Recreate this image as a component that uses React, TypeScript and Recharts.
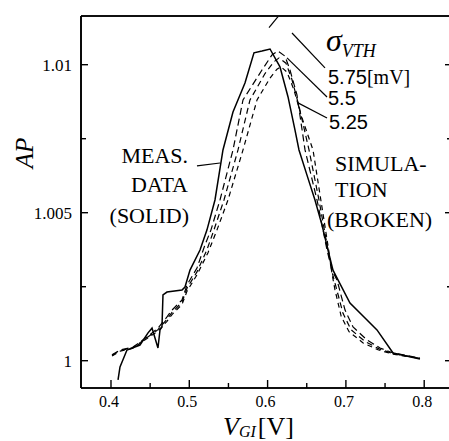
import React from 'react';
import { LineChart, Line, XAxis, YAxis, ReferenceLine, Customized } from 'recharts';

// measured data (solid)
const measX = [0.409, 0.4115, 0.4204, 0.437, 0.4473, 0.4524, 0.46, 0.4626, 0.4651, 0.4664, 0.4715, 0.4907, 0.4945, 0.5009, 0.5137, 0.5226, 0.5328, 0.543, 0.5558, 0.5711, 0.5826, 0.5928, 0.6031, 0.6158, 0.6261, 0.635, 0.6401, 0.6503, 0.6605, 0.6695, 0.6771, 0.6835, 0.6899, 0.7052, 0.7244, 0.7397, 0.7602, 0.7946];
const measY = [0.99935, 0.99979, 1.00036, 1.00053, 1.00094, 1.0011, 1.00043, 1.00104, 1.00114, 1.00222, 1.00232, 1.00239, 1.00249, 1.00306, 1.00374, 1.00442, 1.00543, 1.00712, 1.0084, 1.00938, 1.0104, 1.01046, 1.01053, 1.00993, 1.00891, 1.00779, 1.00712, 1.00627, 1.00543, 1.00458, 1.00374, 1.00306, 1.00273, 1.00195, 1.00144, 1.00104, 1.00026, 1.00006];

// simulations (broken), sigma_VTH = 5.75, 5.5, 5.25 mV
const sim575X = [0.4013, 0.4115, 0.4281, 0.446, 0.46, 0.4715, 0.4779, 0.4907, 0.4971, 0.5098, 0.52, 0.5277, 0.5392, 0.5558, 0.5686, 0.5928, 0.6056, 0.6133, 0.6222, 0.6286, 0.6375, 0.6478, 0.6631, 0.6759, 0.6822, 0.6886, 0.6989, 0.7091, 0.7269, 0.7436, 0.7602, 0.7946];
const sim575Y = [1.0002, 1.00036, 1.00046, 1.0008, 1.0011, 1.00148, 1.00171, 1.00205, 1.00256, 1.00313, 1.00391, 1.00442, 1.00543, 1.00712, 1.00881, 1.00982, 1.01033, 1.01046, 1.01029, 1.00982, 1.00898, 1.00712, 1.00543, 1.00374, 1.00306, 1.00273, 1.00171, 1.00114, 1.0007, 1.00043, 1.00026, 1.00009];

const sim55X = [0.4013, 0.4115, 0.4281, 0.446, 0.46, 0.4715, 0.4779, 0.4907, 0.4971, 0.5098, 0.5226, 0.5315, 0.5443, 0.5622, 0.5775, 0.5967, 0.6082, 0.6146, 0.6235, 0.6311, 0.6401, 0.6529, 0.6656, 0.6771, 0.6822, 0.6873, 0.6963, 0.7065, 0.7244, 0.7423, 0.7602, 0.7946];
const sim55Y = [1.00018, 1.00034, 1.00044, 1.00078, 1.00105, 1.0014, 1.00163, 1.00198, 1.00245, 1.003, 1.00375, 1.00442, 1.00543, 1.00712, 1.00881, 1.0097, 1.0101, 1.01023, 1.01005, 1.0095, 1.0086, 1.00712, 1.00543, 1.00374, 1.003, 1.0025, 1.0016, 1.00105, 1.00065, 1.0004, 1.00024, 1.00008];

const sim525X = [0.4013, 0.4115, 0.4281, 0.446, 0.46, 0.4715, 0.4779, 0.4907, 0.4971, 0.5098, 0.5239, 0.5354, 0.5494, 0.5686, 0.5865, 0.6031, 0.612, 0.6171, 0.6248, 0.6337, 0.6427, 0.658, 0.668, 0.678, 0.6822, 0.686, 0.694, 0.704, 0.722, 0.741, 0.76, 0.7946];
const sim525Y = [1.00016, 1.00032, 1.00042, 1.00075, 1.001, 1.00133, 1.00156, 1.0019, 1.00235, 1.0029, 1.00365, 1.00442, 1.00543, 1.00712, 1.00881, 1.00955, 1.00985, 1.00993, 1.00975, 1.00915, 1.0083, 1.00712, 1.00543, 1.00374, 1.00295, 1.0024, 1.0015, 1.00098, 1.0006, 1.00037, 1.00022, 1.00008];

const xTicks = [0.4, 0.45, 0.5, 0.55, 0.6, 0.65, 0.7, 0.75, 0.8];
const xLabels = ['0.4', '0.5', '0.6', '0.7', '0.8'];
const yTicks = [1, 1.0025, 1.005, 1.0075, 1.01];
const yLabels = ['1', '1.005', '1.01'];

const toPoints = (xs: number[], ys: number[]) => xs.map((x, i) => ({ x, y: ys[i] }));
const meas = toPoints(measX, measY);
const sim575 = toPoints(sim575X, sim575Y);
const sim55 = toPoints(sim55X, sim55Y);
const sim525 = toPoints(sim525X, sim525Y);

const xDomain = [0.3617, 0.8355];
const yDomain = [0.999078, 1.011645];
const serif = "'Liberation Serif', 'Times New Roman', serif";
const sans = "'Liberation Sans', Arial, sans-serif";
const TM = 9;

const labelFor = (v: number, labels: string[]) =>
  labels.find((l) => Math.abs(Number(l) - v) < 1e-7);

const BottomTick = (props: any) => {
  const { x, y, payload } = props;
  const lab = labelFor(payload.value, xLabels);
  const ay = y - TM;
  return (
    <g>
      <line x1={x} x2={x} y1={ay} y2={ay - (lab ? 8 : 5)} stroke="#000" strokeWidth={1.4} />
      {lab && (
        <text x={x - 2} y={ay + 19} textAnchor="middle" style={{ fontFamily: serif, fontSize: 16 }} fill="#000">
          {lab}
        </text>
      )}
    </g>
  );
};

const TopTick = (props: any) => {
  const { x, y, payload } = props;
  const lab = labelFor(payload.value, xLabels);
  return <line x1={x} x2={x} y1={y} y2={y + (lab ? 7 : 5)} stroke="#000" strokeWidth={1.4} />;
};

const LeftTick = (props: any) => {
  const { x, y, payload } = props;
  const lab = labelFor(payload.value, yLabels);
  const ax = x + TM;
  return (
    <g>
      <line x1={ax} x2={ax + (lab ? 7 : 5)} y1={y} y2={y} stroke="#000" strokeWidth={1.4} />
      {lab && (
        <text x={ax - 9} y={y + 6} textAnchor="end" style={{ fontFamily: serif, fontSize: 17 }} fill="#000">
          {lab}
        </text>
      )}
    </g>
  );
};

const RightTick = (props: any) => {
  const { x, y, payload } = props;
  const lab = labelFor(payload.value, yLabels);
  return <line x1={x} x2={x - (lab ? 7 : 5)} y1={y} y2={y} stroke="#000" strokeWidth={1.4} />;
};

const Annotations = () => (
  <g fill="#000">
    <text transform="translate(33,153) rotate(-90)" textAnchor="middle" style={{ fontFamily: serif, fontStyle: 'italic', fontSize: 25 }}>
      AP
    </text>
    <text x={223} y={435} style={{ fontFamily: serif, fontSize: 26 }}>
      <tspan style={{ fontStyle: 'italic' }}>V</tspan>
      <tspan style={{ fontStyle: 'italic', fontSize: 16 }} dy={2}>GI</tspan>
      <tspan dy={-2} dx={2}>[V]</tspan>
    </text>
    <text x={326} y={51} style={{ fontFamily: serif, fontSize: 32 }}>
      <tspan style={{ fontStyle: 'italic' }}>σ</tspan>
      <tspan style={{ fontStyle: 'italic', fontSize: 18 }} dy={6}>VTH</tspan>
    </text>
    <text x={328} y={84} style={{ fontFamily: sans, fontSize: 20 }}>
      5.75<tspan style={{ fontFamily: serif }}>[mV]</tspan>
    </text>
    <text x={328} y={105} style={{ fontFamily: sans, fontSize: 20 }}>5.5</text>
    <text x={329} y={129} style={{ fontFamily: sans, fontSize: 20 }}>5.25</text>
    <g style={{ fontFamily: serif, fontSize: 22 }} textAnchor="end">
      <text x={188} y={163}>MEAS.</text>
      <text x={188} y={192}>DATA</text>
      <text x={189} y={223}>(SOLID)</text>
    </g>
    <g style={{ fontFamily: serif, fontSize: 22 }}>
      <text x={335} y={171}>SIMULA-</text>
      <text x={335} y={197}>TION</text>
      <text x={327} y={227}>(BROKEN)</text>
    </g>
  </g>
);

const leader = { stroke: '#000', strokeWidth: 1.2 };
const frame = { stroke: '#000', strokeWidth: 1.6 };

export default function App() {
  return (
    <div style={{ position: 'absolute', left: 0, top: 0, width: 449, height: 441, overflow: 'hidden', background: '#fff' }}>
      <LineChart width={460} height={441} margin={{ top: 15, right: 7, left: 0, bottom: 23 }}>
        <XAxis
          dataKey="x"
          type="number"
          domain={xDomain}
          ticks={xTicks}
          interval={0}
          allowDataOverflow
          height={30}
          tickSize={0}
          tickMargin={TM}
          tick={<BottomTick />}
          stroke="#000"
          axisLine={{ stroke: '#000', strokeWidth: 1.6 }}
        />
        <XAxis
          xAxisId="top"
          orientation="top"
          type="number"
          domain={xDomain}
          ticks={xTicks}
          interval={0}
          allowDataOverflow
          height={1}
          tickSize={0}
          tickMargin={0}
          tick={<TopTick />}
          stroke="#000"
          axisLine={{ stroke: '#000', strokeWidth: 1.6 }}
        />
        <YAxis
          type="number"
          domain={yDomain}
          ticks={yTicks}
          interval={0}
          allowDataOverflow
          width={81}
          tickSize={0}
          tickMargin={TM}
          tick={<LeftTick />}
          stroke="#000"
          axisLine={{ stroke: '#000', strokeWidth: 1.6 }}
        />
        <YAxis
          yAxisId="right"
          orientation="right"
          type="number"
          domain={yDomain}
          ticks={yTicks}
          interval={0}
          allowDataOverflow
          width={1}
          tickSize={0}
          tickMargin={0}
          tick={<RightTick />}
          stroke="#000"
          axisLine={{ stroke: '#000', strokeWidth: 1.6 }}
        />
        <ReferenceLine x={xDomain[0]} {...frame} />
        <ReferenceLine x={xDomain[1]} {...frame} />
        <ReferenceLine y={yDomain[0]} {...frame} />
        <ReferenceLine y={yDomain[1]} {...frame} />
        <Line data={sim525} dataKey="y" type="linear" dot={false} stroke="#000" strokeWidth={1.2} strokeDasharray="5 4" isAnimationActive={false} />
        <Line data={sim55} dataKey="y" type="linear" dot={false} stroke="#000" strokeWidth={1.2} strokeDasharray="6 4" isAnimationActive={false} />
        <Line data={sim575} dataKey="y" type="linear" dot={false} stroke="#000" strokeWidth={1.2} strokeDasharray="7 4" isAnimationActive={false} />
        <Line data={meas} dataKey="y" type="linear" dot={false} stroke="#000" strokeWidth={1.5} isAnimationActive={false} />
        <ReferenceLine segment={[{ x: 0.6312, y: 1.01107 }, { x: 0.6733, y: 1.00989 }]} {...leader} />
        <ReferenceLine segment={[{ x: 0.6248, y: 1.01023 }, { x: 0.6759, y: 1.00891 }]} {...leader} />
        <ReferenceLine segment={[{ x: 0.6388, y: 1.00871 }, { x: 0.6759, y: 1.0082 }]} {...leader} />
        <ReferenceLine segment={[{ x: 0.5098, y: 1.00658 }, { x: 0.5392, y: 1.00668 }]} {...leader} />
        <ReferenceLine segment={[{ x: 0.6018, y: 1.01125 }, { x: 0.6133, y: 1.01162 }]} {...leader} />
        <Customized component={Annotations} />
      </LineChart>
    </div>
  );
}
